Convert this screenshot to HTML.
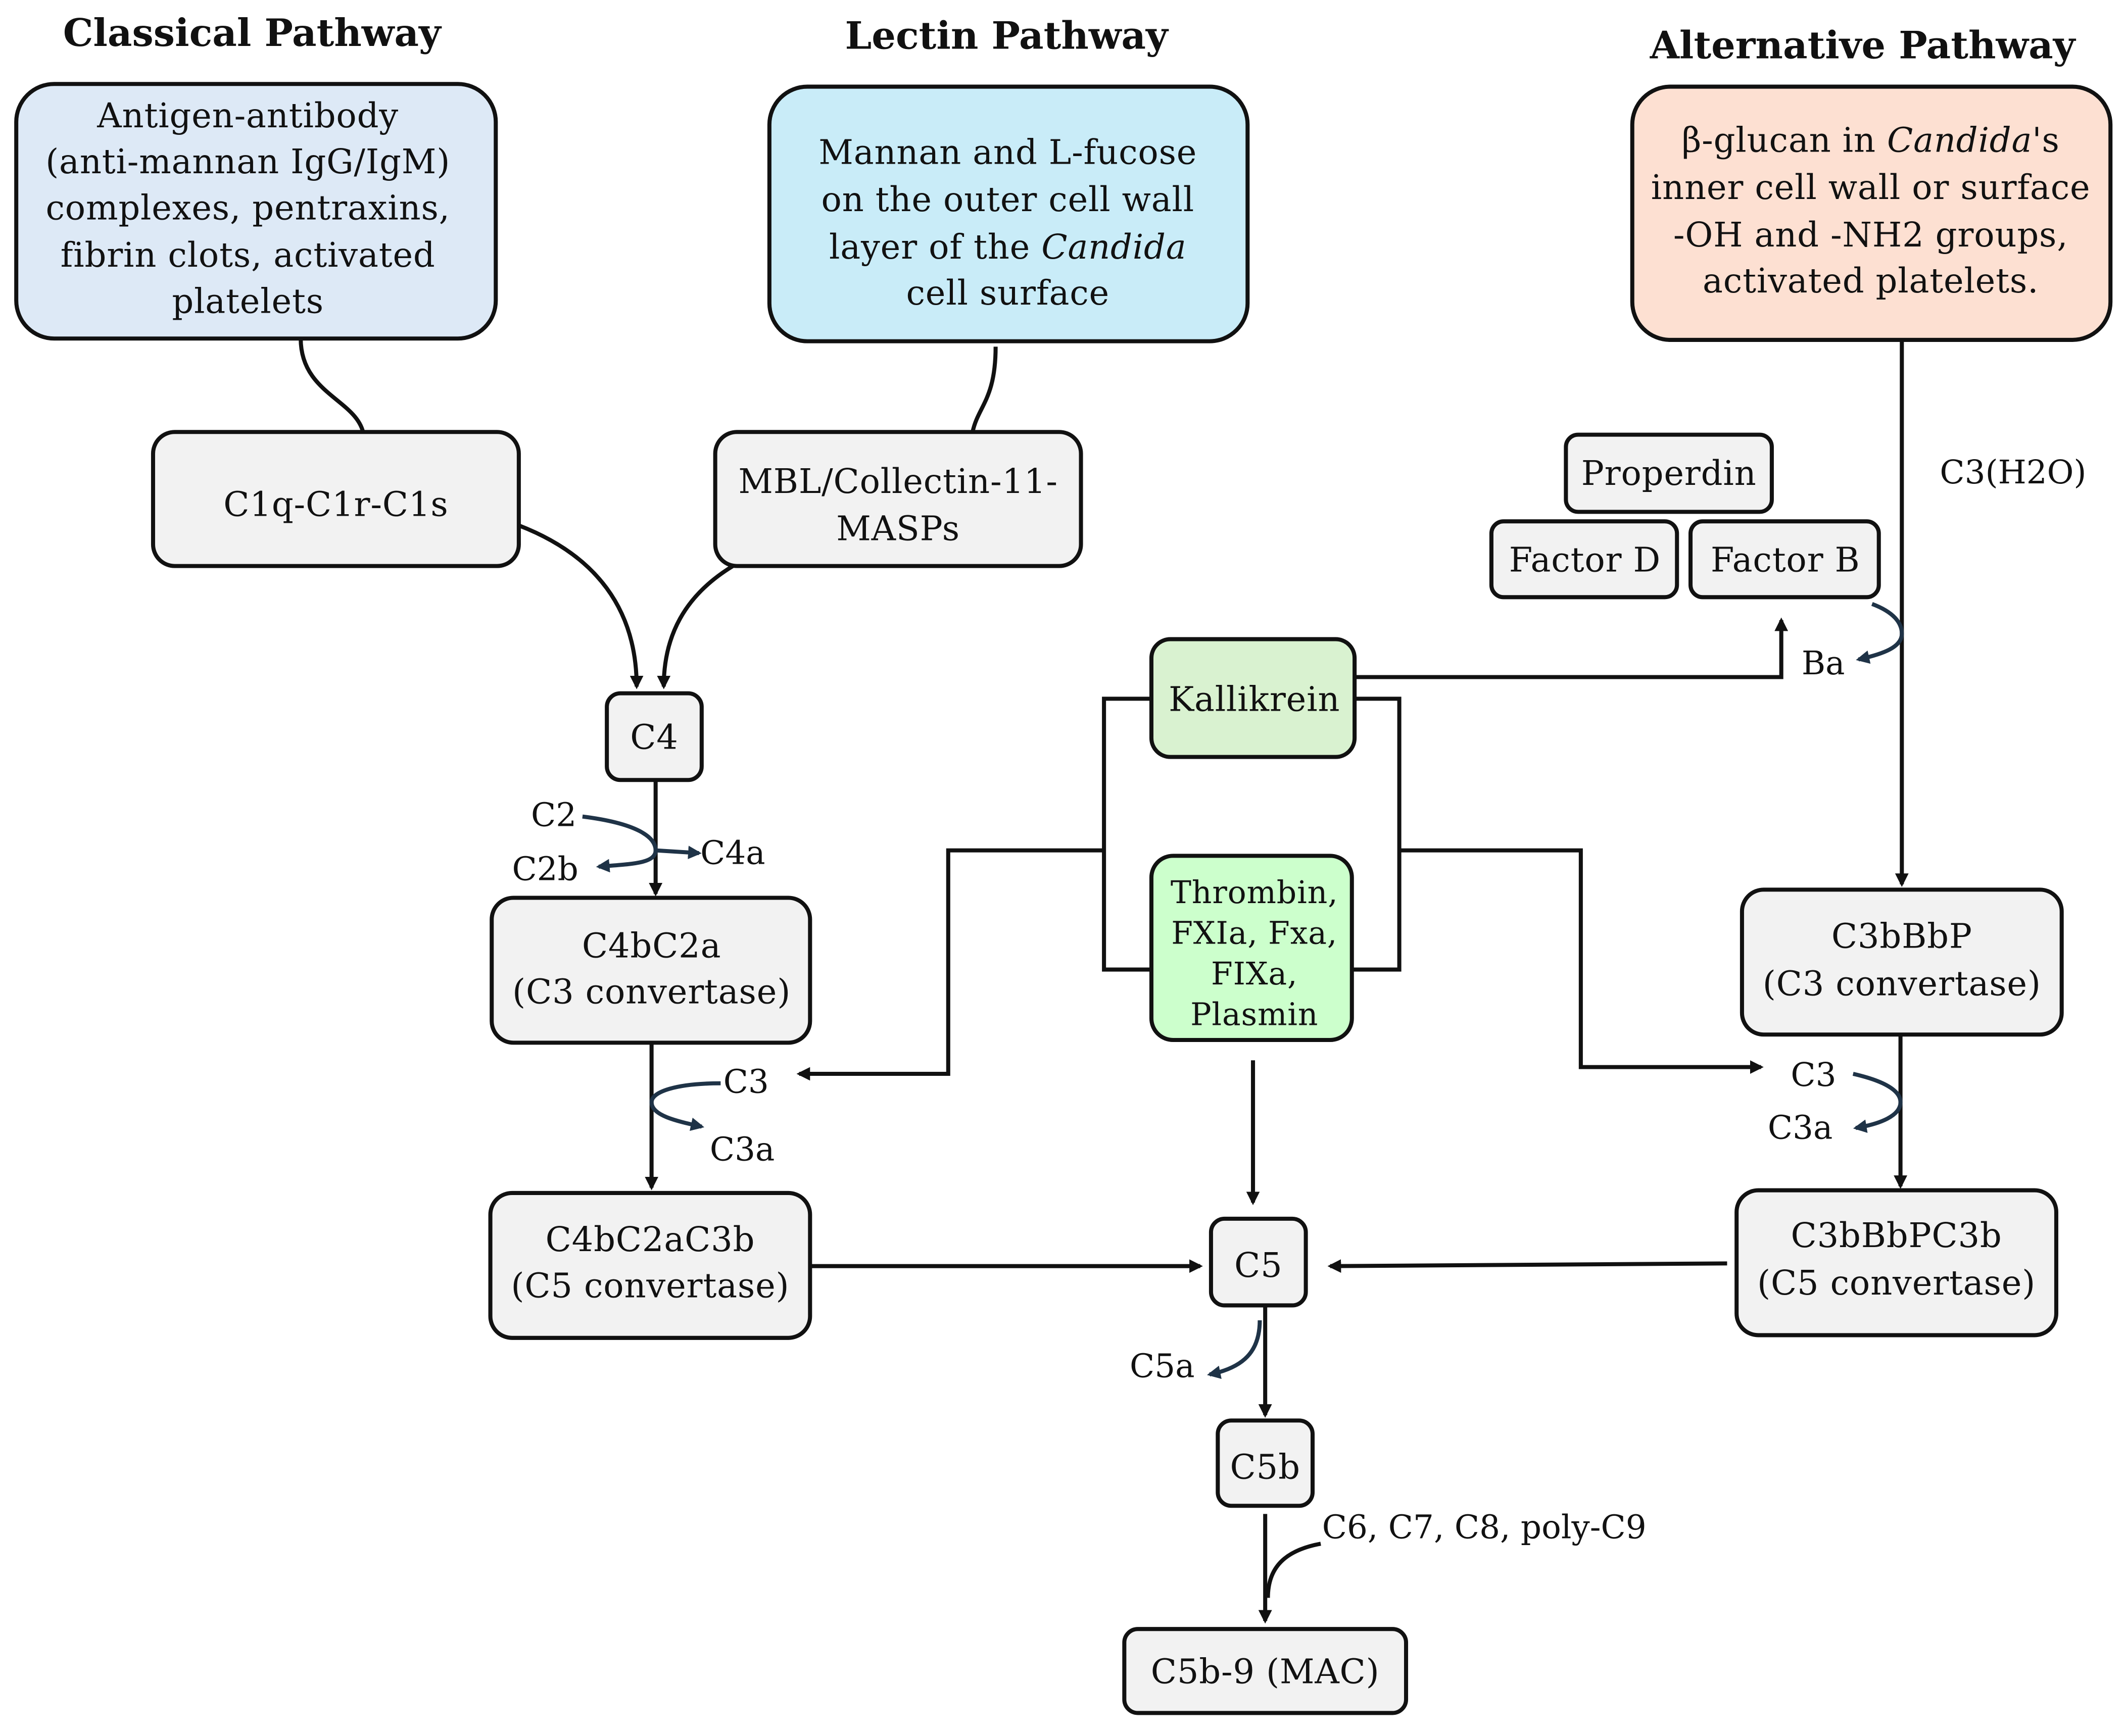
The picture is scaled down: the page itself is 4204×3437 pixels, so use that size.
<!DOCTYPE html>
<html><head><meta charset="utf-8"><style>
html,body{margin:0;padding:0;background:#fff;}
svg{display:block;}
text{font-family:"DejaVu Serif","Liberation Serif",serif;fill:#111;}
.t{font-size:25px;text-anchor:middle;letter-spacing:0.3px;}
.h{font-size:28px;font-weight:bold;text-anchor:middle;}
.s{font-size:24px;}
.b{stroke:#111;stroke-width:3;}
.l{stroke:#111;stroke-width:3;fill:none;}
.n{stroke:#1f3347;stroke-width:3;fill:none;}
</style></head><body>
<svg width="4204" height="3437" viewBox="0 0 1568 1282" preserveAspectRatio="none" xmlns="http://www.w3.org/2000/svg">
<defs>
<marker id="a" markerWidth="10" markerHeight="10" refX="8" refY="5" orient="auto" markerUnits="userSpaceOnUse"><path d="M0,0 L10,5 L0,10 z" fill="#111"/></marker>
<marker id="an" markerWidth="10" markerHeight="10" refX="8" refY="5" orient="auto" markerUnits="userSpaceOnUse"><path d="M0,0 L10,5 L0,10 z" fill="#1f3347"/></marker>
</defs>
<rect width="1568" height="1282" fill="#fff"/>
<text class="h" x="186" y="34">Classical Pathway</text>
<text class="h" x="743" y="36">Lectin Pathway</text>
<text class="h" x="1375" y="43">Alternative Pathway</text>

<path class="l" d="M222,250 C222,290 262,295 268,319"/>
<path class="l" d="M735,256 C735,295 722,300 718,319"/>
<path class="l" d="M383,388 C440,410 470,450 470,507" marker-end="url(#a)"/>
<path class="l" d="M541,418 C505,440 490,470 490,507" marker-end="url(#a)"/>
<path class="l" d="M484,576 L484,660" marker-end="url(#a)"/>
<path class="n" d="M430,603 C470,608 484,618 484,628 C484,638 465,638 442,640" marker-end="url(#an)"/>
<path class="n" d="M484,628 L516,630" marker-end="url(#an)"/>
<path class="l" d="M481,770 L481,877" marker-end="url(#a)"/>
<path class="n" d="M532,800 C500,800 481,806 481,814 C481,824 500,828 518,832" marker-end="url(#an)"/>
<path class="l" d="M850,516 L815,516 L815,716 L850,716"/>
<path class="l" d="M1000,516 L1033,516 L1033,716 L998,716"/>
<path class="l" d="M815,628 L700,628 L700,793 L590,793" marker-end="url(#a)"/>
<path class="l" d="M1033,628 L1167,628 L1167,788 L1300,788" marker-end="url(#a)"/>
<path class="l" d="M1000,500 L1315,500 L1315,458" marker-end="url(#a)"/>
<path class="l" d="M1404,251 L1404,653" marker-end="url(#a)"/>
<path class="n" d="M1382,446 C1398,452 1404,460 1404,468 C1404,478 1390,483 1372,487" marker-end="url(#an)"/>
<path class="l" d="M1403,764 L1403,876" marker-end="url(#a)"/>
<path class="n" d="M1368,793 C1390,798 1403,805 1403,814 C1403,824 1388,830 1370,833" marker-end="url(#an)"/>
<path class="l" d="M925,783 L925,888" marker-end="url(#a)"/>
<path class="l" d="M598,935 L886,935" marker-end="url(#a)"/>
<path class="l" d="M1275,933 L982,935" marker-end="url(#a)"/>
<path class="l" d="M934,964 L934,1045" marker-end="url(#a)"/>
<path class="n" d="M930,975 C930,998 918,1010 893,1015" marker-end="url(#an)"/>
<path class="l" d="M934,1118 L934,1197" marker-end="url(#a)"/>
<path class="l" d="M975,1140 C948,1145 936,1158 936,1180"/>

<rect class="b" x="12" y="62" width="354" height="188" rx="28" fill="#dde9f6"/>
<rect class="b" x="568" y="64" width="353" height="188" rx="28" fill="#c9ecf8"/>
<rect class="b" x="1205" y="64" width="353" height="187" rx="28" fill="#fde0d2"/>
<rect class="b" x="113" y="319" width="270" height="99" rx="16" fill="#f2f2f2"/>
<rect class="b" x="528" y="319" width="270" height="99" rx="16" fill="#f2f2f2"/>
<rect class="b" x="1156" y="321" width="152" height="57" rx="9" fill="#f2f2f2"/>
<rect class="b" x="1101" y="385" width="137" height="56" rx="9" fill="#f2f2f2"/>
<rect class="b" x="1248" y="385" width="139" height="56" rx="9" fill="#f2f2f2"/>
<rect class="b" x="448" y="512" width="70" height="64" rx="10" fill="#f2f2f2"/>
<rect class="b" x="850" y="472" width="150" height="87" rx="14" fill="#d9f2d0"/>
<rect class="b" x="850" y="632" width="148" height="136" rx="16" fill="#ccffcc"/>
<rect class="b" x="363" y="663" width="235" height="107" rx="16" fill="#f2f2f2"/>
<rect class="b" x="1286" y="657" width="236" height="107" rx="16" fill="#f2f2f2"/>
<rect class="b" x="362" y="881" width="236" height="107" rx="16" fill="#f2f2f2"/>
<rect class="b" x="894" y="900" width="70" height="64" rx="10" fill="#f2f2f2"/>
<rect class="b" x="1282" y="879" width="236" height="107" rx="16" fill="#f2f2f2"/>
<rect class="b" x="899" y="1049" width="70" height="63" rx="10" fill="#f2f2f2"/>
<rect class="b" x="830" y="1203" width="208" height="62" rx="10" fill="#f2f2f2"/>

<text class="t" x="183" y="94">Antigen-antibody</text>
<text class="t" x="183" y="128">(anti-mannan IgG/IgM)</text>
<text class="t" x="183" y="162">complexes, pentraxins,</text>
<text class="t" x="183" y="197">fibrin clots, activated</text>
<text class="t" x="183" y="231">platelets</text>
<text class="t" x="744" y="121">Mannan and L-fucose</text>
<text class="t" x="744" y="156">on the outer cell wall</text>
<text class="t" x="744" y="191">layer of the <tspan font-style="italic">Candida</tspan></text>
<text class="t" x="744" y="225">cell surface</text>
<text class="t" x="1381" y="112">β-glucan in <tspan font-style="italic">Candida</tspan>'s</text>
<text class="t" x="1381" y="147">inner cell wall or surface</text>
<text class="t" x="1381" y="182">-OH and -NH2 groups,</text>
<text class="t" x="1381" y="216">activated platelets.</text>
<text class="t" x="248" y="381">C1q-C1r-C1s</text>
<text class="t" x="663" y="364">MBL/Collectin-11-</text>
<text class="t" x="663" y="399">MASPs</text>
<text class="t" x="1232" y="358">Properdin</text>
<text class="t" x="1170" y="422">Factor D</text>
<text class="t" x="1318" y="422">Factor B</text>
<text class="t" x="483" y="553">C4</text>
<text class="t" x="926" y="525">Kallikrein</text>
<text class="t" x="926" y="667" style="font-size:23px">Thrombin,</text>
<text class="t" x="926" y="697" style="font-size:23px">FXIa, Fxa,</text>
<text class="t" x="926" y="727" style="font-size:23px">FIXa,</text>
<text class="t" x="926" y="757" style="font-size:23px">Plasmin</text>
<text class="t" x="481" y="707">C4bC2a</text>
<text class="t" x="481" y="741">(C3 convertase)</text>
<text class="t" x="1404" y="700">C3bBbP</text>
<text class="t" x="1404" y="735">(C3 convertase)</text>
<text class="t" x="480" y="924">C4bC2aC3b</text>
<text class="t" x="480" y="958">(C5 convertase)</text>
<text class="t" x="929" y="943">C5</text>
<text class="t" x="1400" y="921">C3bBbPC3b</text>
<text class="t" x="1400" y="956">(C5 convertase)</text>
<text class="t" x="934" y="1092">C5b</text>
<text class="t" x="934" y="1243">C5b-9 (MAC)</text>

<text class="s" x="392" y="610">C2</text>
<text class="s" x="378" y="650">C2b</text>
<text class="s" x="517" y="638">C4a</text>
<text class="s" x="534" y="807">C3</text>
<text class="s" x="524" y="857">C3a</text>
<text class="s" x="1432" y="357">C3(H2O)</text>
<text class="s" x="1330" y="498">Ba</text>
<text class="s" x="1322" y="802">C3</text>
<text class="s" x="1305" y="841">C3a</text>
<text class="s" x="834" y="1017">C5a</text>
<text class="s" x="976" y="1136">C6, C7, C8, poly-C9</text>
</svg>
</body></html>
